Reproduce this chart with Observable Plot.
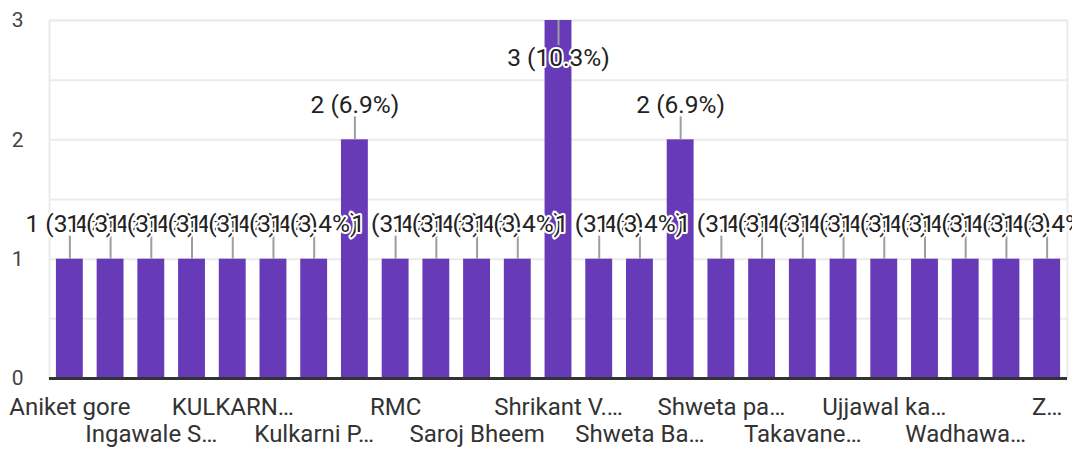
<!DOCTYPE html>
<html>
<head>
<meta charset="utf-8">
<script src="https://cdn.jsdelivr.net/npm/d3@7"></script>
<script src="https://cdn.jsdelivr.net/npm/@observablehq/plot@0.6"></script>
<style>
  html, body { margin: 0; padding: 0; background: #fff; }
  #chart svg { display: block; }
</style>
</head>
<body>
<div id="chart"></div>
<script>
// Response counts, one per bar (left to right)
const counts = [1, 1, 1, 1, 1, 1, 1, 2, 1, 1, 1, 1, 3, 1, 1, 2, 1, 1, 1, 1, 1, 1, 1, 1, 1];
// Category labels as displayed (only every other one is shown; hidden ones are unreadable)
const categories = [
  "Aniket gore", null, "Ingawale S…", null, "KULKARN…", null, "Kulkarni P…", null,
  "RMC", null, "Saroj Bheem", null, "Shrikant V.…", null, "Shweta Ba…", null,
  "Shweta pa…", null, "Takavane…", null, "Ujjawal ka…", null, "Wadhawa…", null, "Z…"
];
const yTicks = [0, 1, 2, 3];
const gridTicks = [0.5, 1, 1.5, 2, 2.5, 3];

const total = d3.sum(counts);
const maxCount = d3.max(counts);
const data = counts.map((c, i) => ({i, count: c, name: categories[i],
  label: `${c} (${(c / total * 100).toFixed(1)}%)`}));
const below = data.filter(d => d.count < maxCount);
const atTop = data.filter(d => d.count === maxCount);

const labelIdx = data.filter(d => d.name !== null).map(d => d.i);
const row1 = labelIdx.filter((_, k) => k % 2 === 0);
const row2 = labelIdx.filter((_, k) => k % 2 === 1);

const font = "Roboto, Arial, sans-serif";

const chart = Plot.plot({
  width: 1072,
  height: 453,
  marginLeft: 49,
  marginRight: 5,
  marginTop: 20,
  marginBottom: 75,
  style: {fontFamily: font, background: "#fff", overflow: "visible"},
  x: {type: "band", domain: d3.range(counts.length), paddingInner: 0.34, paddingOuter: 0.17, round: false, axis: null, label: null},
  y: {domain: [0, 3], axis: null, label: null},
  marks: [
    Plot.ruleY(gridTicks, {stroke: "#ebebeb", strokeWidth: 2}),
    Plot.frame({stroke: "#ebebeb", strokeWidth: 2}),
    Plot.barY(data, {x: "i", y: "count", fill: "#673ab7"}),
    Plot.ruleY([0], {stroke: "#333", strokeWidth: 3}),
    Plot.ruleX(below, {x: "i", y1: "count", y2: "count", insetTop: -23, stroke: "#9e9e9e", strokeWidth: 2}),
    Plot.ruleX(atTop, {x: "i", y1: "count", y2: "count", insetBottom: -25, stroke: "#9e9e9e", strokeWidth: 2}),
    Plot.text(below, {x: "i", y: "count", text: "label", dy: -35, fontSize: 24.5, fill: "#222",
      stroke: "#fff", strokeWidth: 4}),
    Plot.text(atTop, {x: "i", y: "count", text: "label", dy: 38, fontSize: 24.5, fill: "#222",
      stroke: "#fff", strokeWidth: 4}),
    Plot.axisY({ticks: yTicks, tickFormat: d3.format("d"), label: null, tickSize: 0, tickPadding: 26, fontSize: 21, color: "#444", textAnchor: "end"}),
    Plot.axisX({ticks: row1, tickFormat: i => categories[i], label: null, tickSize: 0, tickPadding: 19, fontSize: 24, color: "#333"}),
    Plot.axisX({ticks: row2, tickFormat: i => categories[i], label: null, tickSize: 0, tickPadding: 46, fontSize: 24, color: "#333"})
  ]
});
document.getElementById("chart").append(chart);
</script>
</body>
</html>
